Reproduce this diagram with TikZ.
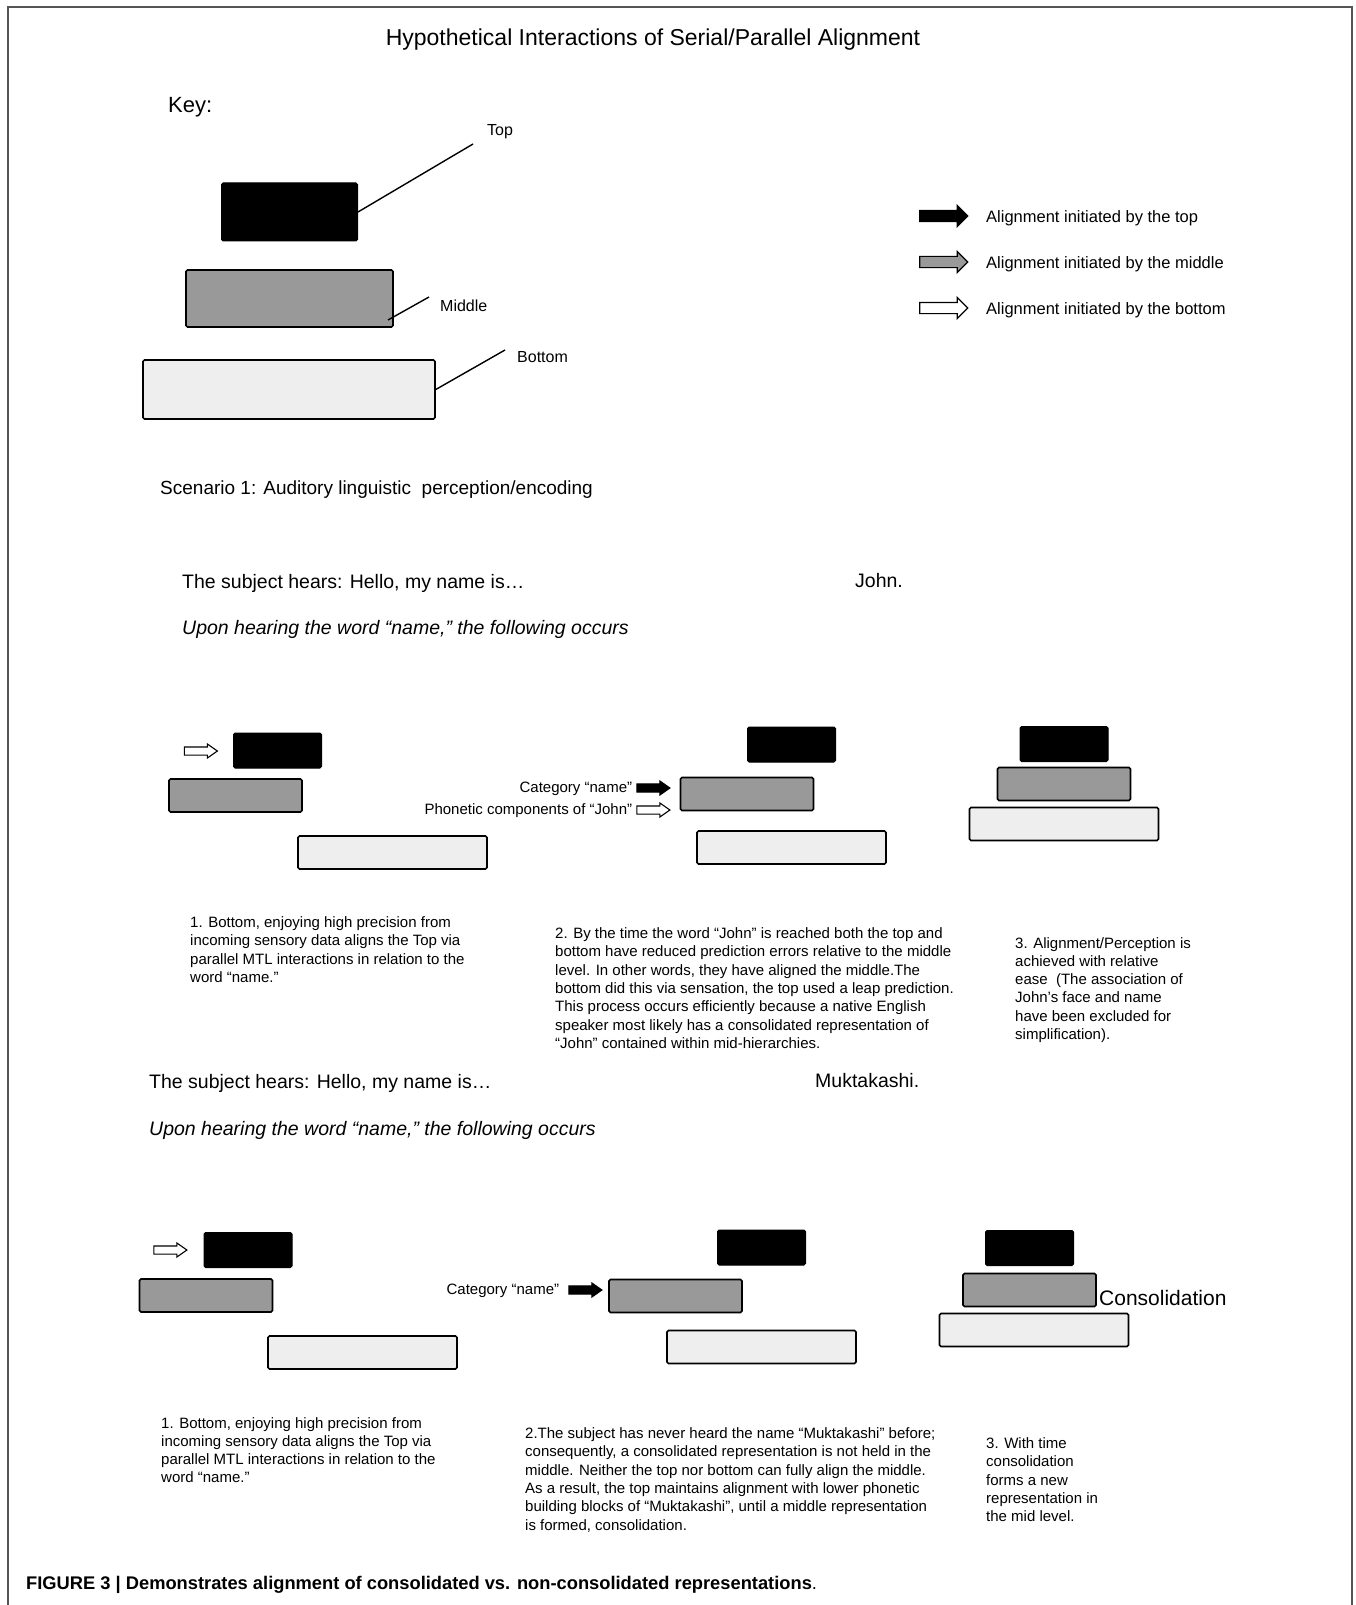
\documentclass[tikz,border=0pt]{standalone}
\usepackage{fontspec}
\setmainfont{Liberation Sans}
\usepackage{tikz}
\usetikzlibrary{shapes.arrows, positioning}
\definecolor{mygrey}{RGB}{153,153,153}
\definecolor{mylight}{RGB}{238,238,238}
\definecolor{myframe}{RGB}{85,85,85}
\tikzset{
  toplayer/.style={rectangle, draw=black, fill=black, minimum width=88pt,
    minimum height=35pt, rounded corners=1.5pt, line width=1pt, inner sep=0pt},
  midlayer/.style={rectangle, draw=black, fill=mygrey, minimum width=133pt,
    minimum height=33pt, rounded corners=1.5pt, line width=1.6pt, inner sep=0pt},
  botlayer/.style={rectangle, draw=black, fill=mylight, minimum width=189pt,
    minimum height=33pt, rounded corners=1.5pt, line width=1.6pt, inner sep=0pt},
  keyarrow/.style={single arrow, draw=black, line width=1.2pt, inner sep=5pt,
    single arrow head extend=5pt, single arrow tip angle=90, minimum height=48pt},
  smallarrow/.style={single arrow, draw=black, line width=1.1pt, inner sep=3.5pt,
    single arrow head extend=3pt, single arrow tip angle=70, minimum height=33pt},
  txt/.style={font=\fontsize{19.5}{23}\selectfont, anchor=west, inner sep=0pt},
  lbl/.style={font=\fontsize{15}{18}\selectfont, inner sep=0pt},
  para/.style={font=\fontsize{15}{18.3}\selectfont, align=left, anchor=north west, inner sep=0pt},
  leader/.style={line width=1.4pt, color=black}
}

\begin{document}
\begin{tikzpicture}[x=1pt, y=-1pt]
  \useasboundingbox (0,0) rectangle (1356,1605);
  \draw[myframe, line width=1.5pt] (8,1605) |- (1352,7) -- (1352,1605);

  % Heading and key
  \node[font=\fontsize{23}{27}\selectfont] (title) at (653,40) {Hypothetical Interactions of Serial/Parallel Alignment};
  \node[font=\fontsize{22}{26}\selectfont, anchor=west, inner sep=0pt] (key) at (168,107) {Key:};

  \node[toplayer, minimum width=136pt, minimum height=58pt] (ktop) at (289.5,212) {};
  \node[midlayer, minimum width=207pt, minimum height=57pt] (kmid) at (289.5,298.5) {};
  \node[botlayer, minimum width=292pt, minimum height=59pt] (kbot) at (289,389.5) {};

  \coordinate (ttip) at (473,144);
  \coordinate (mfoot) at (388,320);
  \coordinate (mtip) at (429,297);
  \coordinate (btip) at (505,350);
  \draw[leader] (ktop.east) -- (ttip);
  \draw[leader] (mfoot) -- (mtip);
  \draw[leader] (kbot.east) -- (btip);
  \node[lbl, font=\fontsize{16}{19}\selectfont] (ltop) at (500,132) {Top};
  \node[lbl, font=\fontsize{16}{19}\selectfont, anchor=west] (lmid) at (440,306) {Middle};
  \node[lbl, font=\fontsize{16}{19}\selectfont, anchor=west] (lbot) at (517,357) {Bottom};

  % Legend arrows
  \node[keyarrow, fill=black] (atop) at (941,216) {};
  \node[keyarrow, fill=mygrey] (amid) at (941,262) {};
  \node[keyarrow, fill=white] (abot) at (941,308) {};
  \node[lbl, font=\fontsize{16.5}{19}\selectfont, anchor=west] at (986,218) {Alignment initiated by the top};
  \node[lbl, font=\fontsize{16.5}{19}\selectfont, anchor=west] at (986,264) {Alignment initiated by the middle};
  \node[lbl, font=\fontsize{16.5}{19}\selectfont, anchor=west] at (986,310) {Alignment initiated by the bottom};

  % Scenario 1: John
  \node[txt, font=\fontsize{19}{23}\selectfont] (scen) at (160,490) {Scenario 1: Auditory linguistic~ perception/encoding};
  \node[txt] (hear1) at (182,583) {The subject hears: Hello, my name is…};
  \node[txt] (john) at (855,581) {John.};
  \node[txt, font=\fontsize{19.5}{23}\selectfont\itshape] (upon1) at (182,629) {Upon hearing the word “name,” the following occurs};

  \node[toplayer] (s1top) at (277.5,750.5) {};
  \node[midlayer] (s1mid) at (235.5,795.5) {};
  \node[botlayer] (s1bot) at (392.5,852.5) {};
  \node[smallarrow, fill=white] (s1arr) at (198,751) {};

  \node[toplayer] (s2top) at (791.5,744.5) {};
  \node[midlayer] (s2mid) at (747,794) {};
  \node[botlayer] (s2bot) at (791.5,847.5) {};
  \node[smallarrow, fill=black] (s2cat) at (650.5,788) {};
  \node[smallarrow, fill=white] (s2pho) at (650.5,810) {};
  \node[lbl, left=4pt of s2cat, yshift=-1pt] {Category “name”};
  \node[lbl, left=4pt of s2pho, yshift=-1pt] {Phonetic components of “John”};

  \node[toplayer] (s3top) at (1064,744) {};
  \node[midlayer] (s3mid) at (1064,784) {};
  \node[botlayer] (s3bot) at (1064,824) {};

  \node[para] (p1) at (190,916.5) {1. Bottom, enjoying high precision from\\incoming sensory data aligns the Top via\\parallel MTL interactions in relation to the\\word “name.”};
  \node[para] (p2) at (555,927.5) {2. By the time the word “John” is reached both the top and\\bottom have reduced prediction errors relative to the middle\\level. In other words, they have aligned the middle.The\\bottom did this via sensation, the top used a leap prediction.\\This process occurs efficiently because a native English\\speaker most likely has a consolidated representation of\\“John” contained within mid-hierarchies.};
  \node[para] (p3) at (1015,937) {3. Alignment/Perception is\\achieved with relative\\ease~ (The association of\\John’s face and name\\have been excluded for\\simplification).};

  % Scenario 2: Muktakashi
  \node[txt] (hear2) at (149,1083) {The subject hears: Hello, my name is…};
  \node[txt] (mukta) at (815,1081) {Muktakashi.};
  \node[txt, font=\fontsize{19.5}{23}\selectfont\itshape] (upon2) at (149,1130) {Upon hearing the word “name,” the following occurs};

  \node[toplayer] (t1top) at (248,1250) {};
  \node[midlayer] (t1mid) at (206,1295.5) {};
  \node[botlayer] (t1bot) at (362.5,1352.5) {};
  \node[smallarrow, fill=white] (t1arr) at (167.5,1250) {};

  \node[toplayer] (t2top) at (761.5,1247.5) {};
  \node[midlayer] (t2mid) at (675.5,1296) {};
  \node[botlayer] (t2bot) at (761.5,1347) {};
  \node[smallarrow, fill=black] (t2cat) at (582.5,1290) {};
  \node[lbl, left=9pt of t2cat, yshift=-1pt] {Category “name”};

  \node[toplayer] (t3top) at (1029.5,1248) {};
  \node[midlayer] (t3mid) at (1029.5,1290) {};
  \node[botlayer] (t3bot) at (1034,1330) {};
  \node[txt, font=\fontsize{21}{25}\selectfont] (consol) at (1099,1298) {Consolidation};

  \node[para] (p4) at (161,1417) {1. Bottom, enjoying high precision from\\incoming sensory data aligns the Top via\\parallel MTL interactions in relation to the\\word “name.”};
  \node[para] (p5) at (525,1427.5) {2.The subject has never heard the name “Muktakashi” before;\\consequently, a consolidated representation is not held in the\\middle. Neither the top nor bottom can fully align the middle.\\As a result, the top maintains alignment with lower phonetic\\building blocks of “Muktakashi”, until a middle representation\\is formed, consolidation.};
  \node[para] (p6) at (986,1437.5) {3. With time\\consolidation\\forms a new\\representation in\\the mid level.};

  % Caption
  \node[txt, font=\fontsize{18.3}{22}\selectfont] (caption) at (26,1585) {\textbf{FIGURE 3 | Demonstrates alignment of consolidated vs. non-consolidated representations}.};
\end{tikzpicture}
\end{document}
